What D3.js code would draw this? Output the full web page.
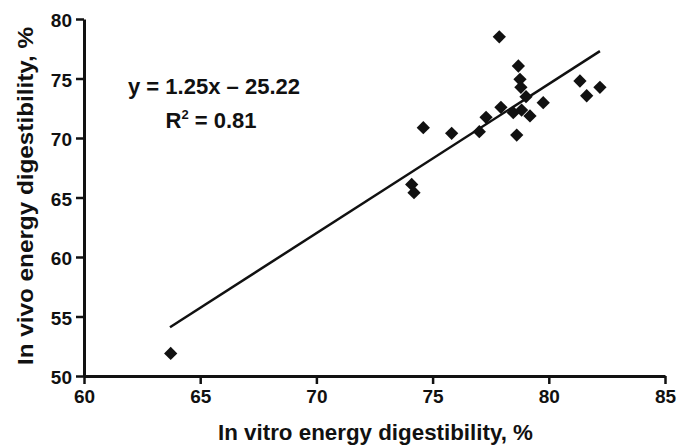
<!DOCTYPE html>
<html>
<head>
<meta charset="utf-8">
<script src="https://cdn.jsdelivr.net/npm/d3@7"></script>
<style>
  body { margin: 0; background: #fff; }
  text { font-family: "Liberation Sans", Arial, sans-serif; font-weight: bold; fill: #111; }
</style>
</head>
<body>
<div id="chart"></div>
<script>
const svgWidth = 689;
const svgHeight = 445;
const margin = { top: 19, right: 24, bottom: 69, left: 84 };

const width = svgWidth - margin.left - margin.right;
const height = svgHeight - margin.top - margin.bottom;

// in vitro (x) vs in vivo (y) energy digestibility, %
const inVitro = [63.73, 74.1, 74.2, 74.6, 75.82, 77.01, 77.3, 77.87, 77.94, 78.47, 78.62,
                 78.69, 78.76, 78.8, 78.83, 79.02, 79.19, 79.76, 81.34, 81.63, 82.2];
const inVivo  = [51.9, 66.1, 65.4, 70.87, 70.39, 70.53, 71.74, 78.5, 72.58, 72.13, 70.25,
                 76.05, 74.93, 74.26, 72.35, 73.47, 71.85, 72.97, 74.79, 73.55, 74.26];

// fitted line as drawn
const fitX = [63.7, 82.2];
const fitY = [54.1, 77.3];

const xTicks = [60, 65, 70, 75, 80, 85];
const yTicks = [50, 55, 60, 65, 70, 75, 80];

const svg = d3.select("#chart")
    .append("svg")
    .attr("width", svgWidth)
    .attr("height", svgHeight)
    .append("g")
    .attr("transform", `translate(${margin.left}, ${margin.top})`);

const x = d3.scaleLinear().domain([60, 85]).range([0, width]);
const y = d3.scaleLinear().domain([50, 80]).range([height, 0]);

// axes
const xAxis = svg.append("g")
    .attr("transform", `translate(0, ${height})`)
    .call(d3.axisBottom(x).tickValues(xTicks).tickSize(8).tickSizeOuter(0).tickPadding(6));
const yAxis = svg.append("g")
    .call(d3.axisLeft(y).tickValues(yTicks).tickSize(8).tickSizeOuter(0).tickPadding(4));

[xAxis, yAxis].forEach(a => {
    a.select(".domain").attr("stroke", "#111").attr("stroke-width", 3);
    a.selectAll(".tick line").attr("stroke", "#111").attr("stroke-width", 2.5);
    a.selectAll(".tick text")
        .style("font-family", "'Liberation Sans', Arial, sans-serif")
        .style("font-weight", "bold")
        .style("font-size", "19px")
        .attr("fill", "#111");
});
yAxis.selectAll(".tick text").attr("dy", "0.42em");

// regression line
svg.append("line")
    .attr("x1", x(fitX[0])).attr("y1", y(fitY[0]))
    .attr("x2", x(fitX[1])).attr("y2", y(fitY[1]))
    .attr("stroke", "#111")
    .attr("stroke-width", 2.5);

// points
const pts = inVitro.map((v, i) => ({ x: v, y: inVivo[i] }));
svg.append("g")
    .selectAll("path")
    .data(pts)
    .enter()
    .append("path")
    .attr("d", d3.symbol(d3.symbolSquare, 88))
    .attr("transform", d => `translate(${x(d.x)}, ${y(d.y)}) rotate(45)`)
    .attr("fill", "#111");

// equation
svg.append("text")
    .attr("x", 130)
    .attr("y", 75)
    .attr("text-anchor", "middle")
    .attr("textLength", 172)
    .attr("lengthAdjust", "spacingAndGlyphs")
    .style("font-size", "22px")
    .text("y = 1.25x \u2013 25.22");

const r2 = svg.append("text")
    .attr("x", 127)
    .attr("y", 109)
    .attr("text-anchor", "middle")
    .style("font-size", "22px");
r2.append("tspan").text("R");
r2.append("tspan").attr("dy", -9).style("font-size", "13px").text("2");
r2.append("tspan").attr("dy", 9).text(" = 0.81");

// axis titles
svg.append("text")
    .attr("x", width / 2 + 1)
    .attr("y", height + 64)
    .attr("text-anchor", "middle")
    .attr("textLength", 315)
    .attr("lengthAdjust", "spacingAndGlyphs")
    .style("font-size", "22px")
    .text("In vitro energy digestibility, %");

svg.append("text")
    .attr("transform", `translate(${33 - margin.left}, ${196 - margin.top}) rotate(-90)`)
    .attr("text-anchor", "middle")
    .attr("textLength", 338)
    .attr("lengthAdjust", "spacingAndGlyphs")
    .style("font-size", "22px")
    .text("In vivo energy digestibility, %");
</script>
</body>
</html>
